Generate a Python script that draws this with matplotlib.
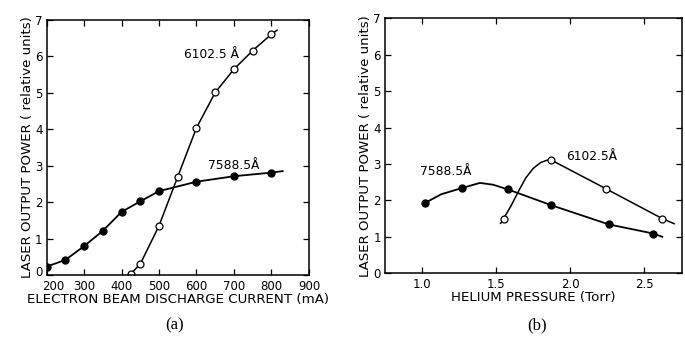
import matplotlib
matplotlib.use("Agg")
import matplotlib.pyplot as plt
from matplotlib.transforms import ScaledTranslation

# (a) power vs electron beam discharge current
cur_6102 = [425, 450, 500, 550, 600, 650, 700, 750, 800]
pow_6102 = [0.03, 0.30, 1.35, 2.70, 4.04, 5.01, 5.65, 6.16, 6.61]
cur_7588 = [200, 250, 300, 350, 400, 450, 500, 600, 700, 800]
pow_7588 = [0.23, 0.41, 0.79, 1.21, 1.73, 2.02, 2.30, 2.56, 2.71, 2.81]
# traced fit curves (hand drawn in the original)
fit_cur_6102 = [425, 450, 500, 550, 600, 650, 700, 750, 800, 815]
fit_pow_6102 = [0.03, 0.30, 1.35, 2.70, 4.04, 5.01, 5.65, 6.16, 6.61, 6.72]
fit_cur_7588 = [200, 250, 300, 350, 400, 450, 500, 600, 700, 800, 830]
fit_pow_7588 = [0.23, 0.41, 0.79, 1.21, 1.73, 2.02, 2.30, 2.56, 2.71, 2.81, 2.85]

# (b) power vs helium pressure
p_6102 = [1.55, 1.87, 2.24, 2.62]
w_6102 = [1.50, 3.11, 2.32, 1.50]
p_7588 = [1.02, 1.27, 1.58, 1.87, 2.26, 2.56]
w_7588 = [1.93, 2.34, 2.30, 1.87, 1.34, 1.09]
fit_p_6102 = [1.53, 1.55, 1.60, 1.65, 1.70, 1.75, 1.80, 1.84, 1.87, 2.24, 2.62, 2.70]
fit_w_6102 = [1.37, 1.50, 1.85, 2.25, 2.62, 2.88, 3.04, 3.10, 3.11, 2.32, 1.50, 1.36]
fit_p_7588 = [1.02, 1.13, 1.27, 1.39, 1.48, 1.58, 1.87, 2.26, 2.56, 2.62]
fit_w_7588 = [1.93, 2.17, 2.34, 2.48, 2.43, 2.30, 1.87, 1.34, 1.09, 1.00]

fig = plt.figure(figsize=(6.85, 3.39), dpi=100)
ax1 = fig.add_axes([0.068, 0.189, 0.383, 0.752])
ax2 = fig.add_axes([0.562, 0.194, 0.433, 0.752])

tick_fs = 8.5
lab_fs = 9.6

for ax in (ax1, ax2):
    ax.set_ylim(0, 7)
    ax.set_yticks(range(0, 8))
    ax.tick_params(direction='in', top=True, right=True, length=4, width=0.9,
                   labelsize=tick_fs)
    ax.tick_params(axis='x', pad=3.5)
    ax.tick_params(axis='y', pad=3)
    for s in ax.spines.values():
        s.set_linewidth(1.1)
    ax.set_ylabel('LASER OUTPUT POWER ( relative units)', fontsize=lab_fs, labelpad=1)

# panel (a)
ax1.plot(fit_cur_7588, fit_pow_7588, color='black', lw=1.3)
ax1.plot(fit_cur_6102, fit_pow_6102, color='black', lw=1.1)
ax1.plot(cur_7588, pow_7588, 'o', color='black', ms=5, ls='none')
ax1.plot(cur_6102, pow_6102, 'o', mfc='white', mec='black', mew=0.9, ms=5, ls='none')
ax1.set_xlim(200, 900)
ax1.set_xticks(range(200, 1000, 100))
ax1.set_xlabel('ELECTRON BEAM DISCHARGE CURRENT (mA)', fontsize=lab_fs, labelpad=0)
ax1.text(712, 6.05, '6102.5 Å', fontsize=8.8, ha='right', va='center')
ax1.text(698, 3.0, '7588.5Å', fontsize=8.8, ha='center', va='center')

# nudge the corner labels apart like in the original
fig.canvas.draw()
xl0 = ax1.get_xticklabels()[0]
xl0.set_transform(xl0.get_transform() + ScaledTranslation(5 / 72, 0, fig.dpi_scale_trans))
yl0 = ax1.get_yticklabels()[0]
yl0.set_transform(yl0.get_transform() + ScaledTranslation(0, 3 / 72, fig.dpi_scale_trans))

# panel (b)
ax2.plot(fit_p_7588, fit_w_7588, color='black', lw=1.3)
ax2.plot(fit_p_6102, fit_w_6102, color='black', lw=1.1)
ax2.plot(p_7588, w_7588, 'o', color='black', ms=5, ls='none')
ax2.plot(p_6102, w_6102, 'o', mfc='white', mec='black', mew=0.9, ms=5, ls='none')
ax2.set_xlim(0.75, 2.75)
ax2.set_xticks([1.0, 1.5, 2.0, 2.5])
ax2.set_xticklabels(['1.0', '1.5', '2.0', '2.5'])
ax2.set_xlabel('HELIUM PRESSURE (Torr)', fontsize=lab_fs, labelpad=0)
ax2.text(1.16, 2.78, '7588.5Å', fontsize=8.8, ha='center', va='center')
ax2.text(1.97, 3.2, '6102.5Å', fontsize=8.8, ha='left', va='center')

fig.text(0.255, 0.04, '(a)', fontsize=12, family='Liberation Serif', ha='center', va='center')
fig.text(0.784, 0.04, '(b)', fontsize=12, family='Liberation Serif', ha='center', va='center')

fig.savefig('out.png', dpi=100)
